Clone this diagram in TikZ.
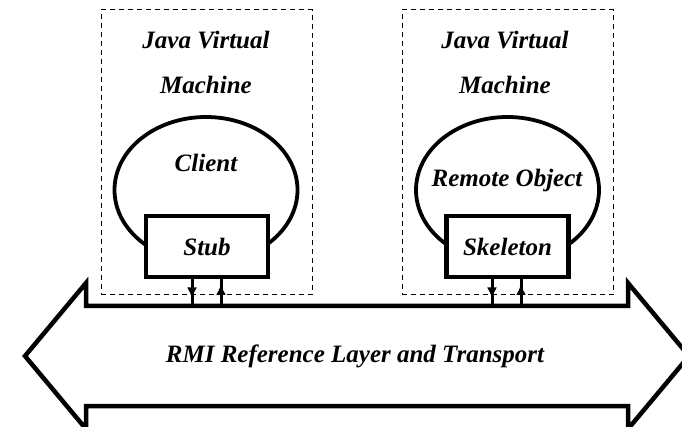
\documentclass[tikz,border=0pt]{standalone}
\usepackage{fontspec}
\setmainfont{Liberation Serif}
\usetikzlibrary{arrows.meta,calc,shapes.geometric}
\begin{document}
\begin{tikzpicture}[x=1pt,y=-1pt,
  txt/.style={font=\fontsize{25}{45}\selectfont\bfseries\itshape, align=center, inner sep=0pt},
  jvm/.style={draw, dashed, dash pattern=on 5pt off 4pt, line width=1pt, minimum width=211pt, minimum height=285pt, inner sep=0pt},
  blob/.style={draw, line width=3.8pt, ellipse, minimum width=183pt, minimum height=146pt, inner sep=0pt},
  stubbox/.style={draw, fill=white, line width=4.3pt, minimum width=122pt, minimum height=61pt, inner sep=0pt, font=\fontsize{25}{30}\selectfont\bfseries\itshape},
  arrline/.style={line width=3pt},
  arrhead/.style={line width=3pt, -{Latex[length=11pt,width=10pt]}},
  bigarrow/.style={draw, line width=4.5pt, line join=miter}
]
\useasboundingbox (0,0) rectangle (682,427);

% JVM boxes
\node[jvm] (jvmL) at (206.5,152.5) {};
\node[jvm] (jvmR) at (507.5,152.5) {};
\node[txt] (jvmLt) at (206,62) {Java Virtual\\Machine};
\node[txt] (jvmRt) at (505,62) {Java Virtual\\Machine};

% ellipses
\node[blob] (client) at (206,190) {};
\node[blob] (remote) at (507.5,190) {};
\node[txt] (clientt) at (206,163) {Client};
\node[txt] (remotet) at (507,180) {Remote Object};

% stub / skeleton
\node[stubbox] (stub) at (207,246.5) {Stub};
\node[stubbox] (skel) at (507.5,246.5) {Skeleton};

% big double arrow
\draw[bigarrow] (86,306) -- (86,283) -- (25,356) -- (86,429) -- (86,406) -- (628,406) -- (628,429) -- (689,356) -- (628,283) -- (628,306) -- cycle;
\node[txt] (rmi) at (355,356) {RMI Reference Layer and Transport};

% connection points on the transport
\coordinate (a1) at (192,306);
\coordinate (a2) at (221,306);
\coordinate (b1) at (492,306);
\coordinate (b2) at (521,306);

% stub <-> transport
\draw[arrline] (stub.south -| a1) -- (a1);
\draw[arrhead] (stub.south -| a1) -- ($(stub.south -| a1)!0.72!(a1)$);
\draw[arrline] (a2) -- (stub.south -| a2);
\draw[arrhead] (a2) -- ($(a2)!0.82!(stub.south -| a2)$);
% skeleton <-> transport
\draw[arrline] (skel.south -| b1) -- (b1);
\draw[arrhead] (skel.south -| b1) -- ($(skel.south -| b1)!0.72!(b1)$);
\draw[arrline] (b2) -- (skel.south -| b2);
\draw[arrhead] (b2) -- ($(b2)!0.82!(skel.south -| b2)$);
\end{tikzpicture}
\end{document}
